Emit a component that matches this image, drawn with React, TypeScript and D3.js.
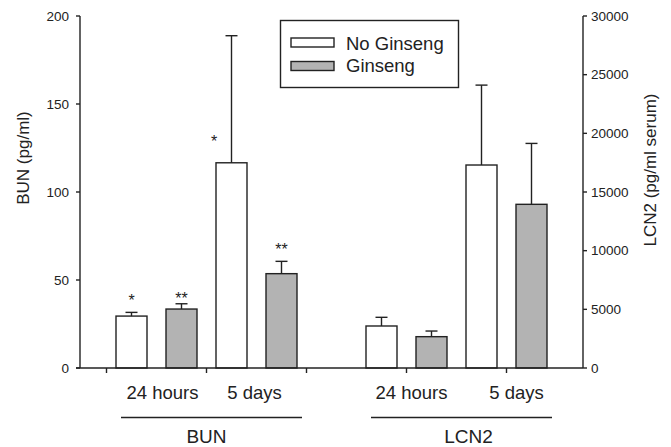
import React from "react";
import * as d3 from "d3";

const groups = ["BUN", "LCN2"];
const times = ["24 hours", "5 days"];
const series = ["No Ginseng", "Ginseng"];
// order inside each group: 24h No, 24h Ginseng, 5d No, 5d Ginseng
const bunMean = [29.5, 33.5, 116.6, 53.6];
const bunErr = [2.1, 3.0, 72.2, 7.0];
const bunStars = ["*", "**", "*", "**"];
const bunStarAt = [40.5, 41.5, 131, 69.5];
const lcn2Mean = [3580, 2670, 17300, 13950];
const lcn2Err = [740, 480, 6810, 5190];
const bunTicks = [0, 50, 100, 150, 200];
const lcn2Ticks = [0, 5000, 10000, 15000, 20000, 25000, 30000];

const W = 671;
const H = 447;
const left = 80;
const right = 583;
const top = 16;
const bottom = 368;
const font = "'Liberation Sans', Arial, sans-serif";
const ink = "#222";
const grey = "#b3b3b3";

const App = () => {
  const slots: string[] = [];
  groups.forEach((g, gi) => {
    if (gi > 0) slots.push("gap");
    times.forEach(t => series.forEach(s => slots.push(`${g}|${t}|${s}`)));
  });

  const x = d3.scaleBand<string>().domain(slots).range([left, right])
    .paddingInner(0.38).paddingOuter(0.72);
  const bw = x.bandwidth();
  const yL = d3.scaleLinear().domain([0, 200]).range([bottom, top]);
  const yR = d3.scaleLinear().domain([0, 30000]).range([bottom, top]);

  const bars: any[] = [];
  groups.forEach(g => {
    const mean = g === "BUN" ? bunMean : lcn2Mean;
    const err = g === "BUN" ? bunErr : lcn2Err;
    const y = g === "BUN" ? yL : yR;
    let i = 0;
    times.forEach(t => series.forEach(s => {
      bars.push({ g, t, s, i, key: `${g}|${t}|${s}`, v: mean[i], e: err[i], y });
      i++;
    }));
  });

  const halfPad = x.step() * 0.38 / 2;
  const tickSlots = [0, 2, 4, 6, 8].map(i => (x(slots[i]) as number) - halfPad);
  const timeDx = [6, -2, 5, 10];

  return (
    <svg width={W} height={H} style={{ position: "absolute", left: 0, top: 0 }}
      fontFamily={font} fill={ink}>
      <rect width={W} height={H} fill="#fff" />

      {/* bars */}
      {bars.map(b => (
        <rect key={b.key} x={x(b.key)} y={b.y(b.v)} width={bw}
          height={bottom - b.y(b.v)} fill={b.s === "Ginseng" ? grey : "#fff"}
          stroke={ink} strokeWidth={1.4} />
      ))}
      {/* error bars */}
      {bars.map(b => {
        const cx = (x(b.key) as number) + bw / 2;
        return (
          <g key={"e" + b.key} stroke={ink} strokeWidth={1.4}>
            <line x1={cx} x2={cx} y1={b.y(b.v)} y2={b.y(b.v + b.e)} />
            <line x1={cx - 6} x2={cx + 6} y1={b.y(b.v + b.e)} y2={b.y(b.v + b.e)} />
          </g>
        );
      })}
      {/* significance stars */}
      {bars.filter(b => b.g === "BUN").map(b => {
        const cx = (x(b.key) as number) + (b.i === 2 ? -2 : bw / 2);
        return (
          <text key={"s" + b.key} x={cx} y={yL(bunStarAt[b.i]) + 9.5}
            textAnchor="middle" fontSize={16}>{bunStars[b.i]}</text>
        );
      })}

      {/* axes */}
      <g stroke={ink} strokeWidth={1.4}>
        <line x1={left} x2={left} y1={top} y2={bottom} />
        <line x1={right} x2={right} y1={top} y2={bottom} />
        <line x1={left - 4} x2={right} y1={bottom} y2={bottom} />
        {bunTicks.map(t => <line key={"lt" + t} x1={left - 4} x2={left} y1={yL(t)} y2={yL(t)} />)}
        {lcn2Ticks.map(t => <line key={"rt" + t} x1={right} x2={right + 4} y1={yR(t)} y2={yR(t)} />)}
        {tickSlots.map((tx, i) => <line key={"xt" + i} x1={tx} x2={tx} y1={bottom} y2={bottom + 5} />)}
      </g>
      {bunTicks.map(t => (
        <text key={"ll" + t} x={left - 11} y={yL(t)} dy="0.35em" textAnchor="end" fontSize={13.5}>{t}</text>
      ))}
      {lcn2Ticks.map(t => (
        <text key={"rl" + t} x={right + 8} y={yR(t)} dy="0.35em" fontSize={13.5}>{t}</text>
      ))}
      <text transform={`translate(29,158) rotate(-90)`} textAnchor="middle" fontSize={17}>BUN (pg/ml)</text>
      <text transform={`translate(656,170) rotate(-90)`} textAnchor="middle" fontSize={17}>LCN2 (pg/ml serum)</text>

      {/* category labels */}
      {groups.map((g, gi) => {
        const k0 = `${g}|${times[0]}|${series[0]}`;
        const k1 = `${g}|${times[1]}|${series[1]}`;
        const x0 = (x(k0) as number) + 5;
        const x1 = (x(k1) as number) + bw + 5;
        return (
          <g key={g}>
            {times.map((t, ti) => {
              const a = x(`${g}|${t}|${series[0]}`) as number;
              const c = (a + (x(`${g}|${t}|${series[1]}`) as number) + bw) / 2;
              return (
                <text key={t} x={c + timeDx[gi * 2 + ti]} y={399} textAnchor="middle" fontSize={18.5}>{t}</text>
              );
            })}
            <line x1={x0} x2={x1} y1={417.5} y2={417.5} stroke={ink} strokeWidth={1.4} />
            <text x={(x0 + x1) / 2 + (gi === 0 ? -5 : 7)} y={443} textAnchor="middle" fontSize={19}>{g}</text>
          </g>
        );
      })}

      {/* legend */}
      <rect x={280.5} y={20.5} width={178} height={67} fill="#fff" stroke={ink} strokeWidth={1.4} />
      {series.map((s, i) => (
        <g key={s}>
          <rect x={291} y={38 + i * 23.5} width={43} height={9}
            fill={s === "Ginseng" ? grey : "#fff"} stroke={ink} strokeWidth={1.4} />
          <text x={346} y={49.5 + i * 22.5} fontSize={18.5}>{s}</text>
        </g>
      ))}
    </svg>
  );
};

export default App;
